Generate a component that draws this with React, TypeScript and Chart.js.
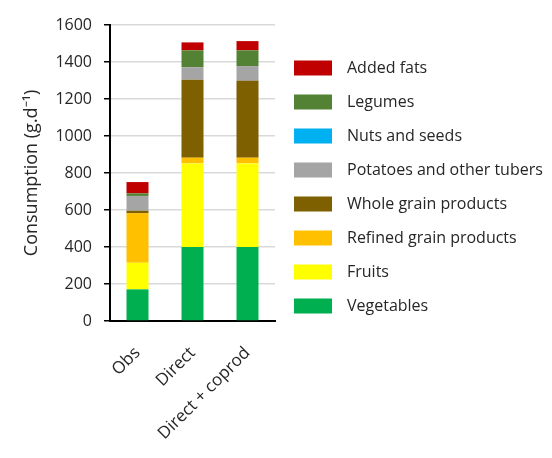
import React, { useEffect, useRef } from "react";
import { Chart, registerables } from "chart.js";

Chart.register(...registerables);

const categories = ["Obs", "Direct", "Direct + coprod"];
const seriesNames = [
  "Vegetables",
  "Fruits",
  "Refined grain products",
  "Whole grain products",
  "Potatoes and other tubers",
  "Nuts and seeds",
  "Legumes",
  "Added fats",
];
const vegetables = [171, 400, 400];
const fruits = [144, 452, 452];
const refinedGrain = [267, 31, 31];
const wholeGrain = [14, 421, 415];
const potatoes = [80, 68, 80];
const nutsSeeds = [0, 0, 0];
const legumes = [14, 91, 85];
const addedFats = [61, 43, 50];
const yTicks = [0, 200, 400, 600, 800, 1000, 1200, 1400, 1600];

const seriesValues = [vegetables, fruits, refinedGrain, wholeGrain, potatoes, nutsSeeds, legumes, addedFats];
const seriesColors = ["#00B050", "#FFFF00", "#FFC000", "#7F6000", "#A5A5A5", "#00B0F0", "#548235", "#C00000"];

const FONT = "'Open Sans', sans-serif";
const TEXT = "#262626";

const legendPlugin = {
  id: "customLegend",
  afterDraw(chart: any) {
    const ctx = chart.ctx;
    const ds = chart.data.datasets;
    ctx.save();
    ctx.font = `16px ${FONT}`;
    ctx.textBaseline = "middle";
    ctx.textAlign = "left";
    const n = ds.length;
    for (let i = 0; i < n; i++) {
      const d = ds[n - 1 - i];
      const cy = 68 + i * 34;
      ctx.fillStyle = d.backgroundColor;
      ctx.fillRect(294, cy - 7.5, 38, 15);
      ctx.fillStyle = TEXT;
      ctx.fillText(d.label, 347, cy);
    }
    ctx.restore();
  },
};

export default function App() {
  const ref = useRef<HTMLCanvasElement | null>(null);
  useEffect(() => {
    if (!ref.current) return;
    const chart = new Chart(ref.current, {
      type: "bar",
      data: {
        labels: categories,
        datasets: seriesNames.map((name, i) => ({
          label: name,
          data: seriesValues[i],
          backgroundColor: seriesColors[i],
          borderWidth: 0,
          categoryPercentage: 1,
          barPercentage: 0.4,
        })),
      },
      options: {
        animation: false,
        responsive: false,
        maintainAspectRatio: false,
        layout: { padding: { top: 25, right: 277, left: 0, bottom: 0 } },
        plugins: { legend: { display: false }, tooltip: { enabled: false } },
        scales: {
          x: {
            stacked: true,
            grid: { display: false },
            border: { display: true, color: "#000", width: 2 },
            ticks: {
              color: TEXT,
              font: { family: FONT, size: 17 },
              minRotation: 45,
              maxRotation: 45,
              padding: 14,
            },
            afterFit: (s: any) => {
              s.height = 137;
            },
          },
          y: {
            stacked: true,
            min: 0,
            max: 1600,
            afterBuildTicks: (s: any) => {
              s.ticks = yTicks.map((v) => ({ value: v }));
            },
            grid: { color: "#D9D9D9", lineWidth: 1.5, tickColor: "#000", tickLength: 6, tickWidth: 1.5 },
            border: { display: true, color: "#000", width: 2 },
            ticks: {
              color: TEXT,
              font: { family: FONT, size: 16 },
              padding: 12,
              callback: (v: any) => String(v),
            },
            title: {
              display: true,
              text: "Consumption (g.d⁻¹)",
              color: TEXT,
              font: { family: FONT, size: 18 },
              padding: { top: 21, bottom: 0 },
            },
            afterFit: (s: any) => {
              s.width = 110;
            },
          },
        },
      },
      plugins: [legendPlugin],
    });
    return () => chart.destroy();
  }, []);
  return (
    <div style={{ position: "absolute", left: 0, top: 0, width: 552, height: 458, background: "#fff" }}>
      <canvas ref={ref} width={552} height={458} style={{ width: 552, height: 458 }} />
    </div>
  );
}
